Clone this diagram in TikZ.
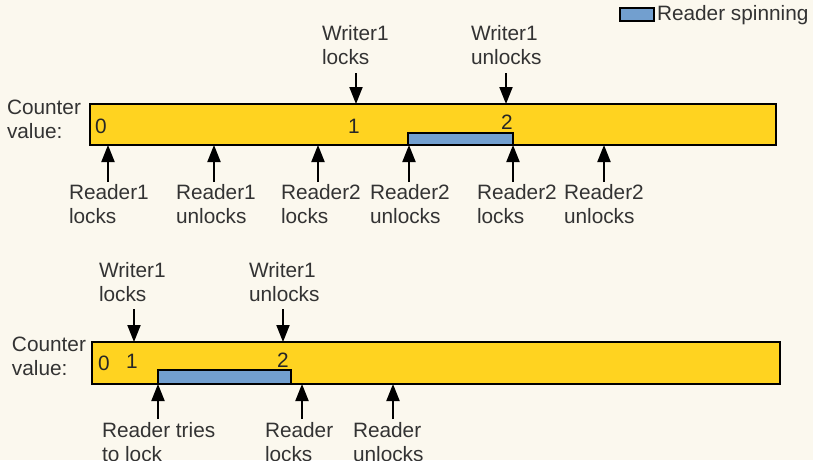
\documentclass[tikz,border=0pt]{standalone}
\usepackage{fontspec}
\setmainfont{Liberation Sans}
\usetikzlibrary{arrows.meta}
\definecolor{bgc}{HTML}{FBF8EE}
\definecolor{baryellow}{HTML}{FFD320}
\definecolor{spinblue}{HTML}{729FCF}
\definecolor{txt}{HTML}{333333}
\begin{document}
\begin{tikzpicture}[x=1pt,y=-1pt,
  every node/.style={inner sep=0pt,outer sep=0pt},
  lbl/.style={anchor=north west,align=left,text=txt,font=\fontsize{20.8}{24}\selectfont},
  num/.style={anchor=base,text=black!85,font=\fontsize{20.8}{24}\selectfont},
  bar/.style={draw=black,line width=2.6pt,fill=baryellow,rectangle},
  spin/.style={draw=black,line width=2.6pt,fill=spinblue,rectangle},
  arr/.style={line width=2pt,-{Triangle[length=17pt,width=13pt]}}]
\fill[bgc] (0,0) rectangle (813,460);
\useasboundingbox (0,0) rectangle (813,460);
% legend
\node[spin,minimum width=34pt,minimum height=13pt] (leg) at (637,14.5) {};
\node[lbl,anchor=west] (legt) at (657,15) {Reader spinning};
% ---------- top diagram ----------
\node[lbl] (cv1) at (7,100) {Counter\\value:};
\node[bar,minimum width=686pt,minimum height=41pt] (bar1) at (433,124.5) {};
\node[spin,minimum width=105pt,minimum height=12pt] (spin1) at (460.5,139) {};
\node[num] (n10) at (101,133) {0};
\node[num] (n11) at (354,133) {1};
\node[num] (n12) at (507,129) {2};
\node[lbl] (w1l) at (322,25) {Writer1\\locks};
\node[lbl] (w1u) at (471,25) {Writer1\\unlocks};
\coordinate (tw1) at (356,73);
\coordinate (tw2) at (506,73);
\draw[arr] (tw1) -- (tw1 |- bar1.north);
\draw[arr] (tw2) -- (tw2 |- bar1.north);
\node[lbl] (r1l) at (69,184) {Reader1\\locks};
\node[lbl] (r1u) at (176,184) {Reader1\\unlocks};
\node[lbl] (r2l) at (281,184) {Reader2\\locks};
\node[lbl] (r2u) at (370,184) {Reader2\\unlocks};
\node[lbl] (r2l2) at (477,184) {Reader2\\locks};
\node[lbl] (r2u2) at (564,184) {Reader2\\unlocks};
\foreach \x/\n in {108/a,214/b,318/c,409/d,513/e,604/f}{
  \coordinate (tb\n) at (\x,182);
  \draw[arr] (tb\n) -- (tb\n |- bar1.south);
}
% ---------- bottom diagram ----------
\node[lbl] (cv2) at (12,337) {Counter\\value:};
\node[bar,minimum width=688pt,minimum height=42pt] (bar2) at (436,363) {};
\node[spin,minimum width=133pt,minimum height=14pt] (spin2) at (224.5,377) {};
\node[num] (n20) at (104,370) {0};
\node[num] (n21) at (132,368) {1};
\node[num] (n22) at (283,367) {2};
\node[lbl] (w2l) at (99,262) {Writer1\\locks};
\node[lbl] (w2u) at (249,262) {Writer1\\unlocks};
\coordinate (uw1) at (134,309);
\coordinate (uw2) at (283,309);
\draw[arr] (uw1) -- (uw1 |- bar2.north);
\draw[arr] (uw2) -- (uw2 |- bar2.north);
\node[lbl] (rt) at (102,422) {Reader tries\\to lock};
\node[lbl] (rl) at (265,422) {Reader\\locks};
\node[lbl] (ru) at (353,422) {Reader\\unlocks};
\foreach \x/\n in {158/a,302/b,393/c}{
  \coordinate (ub\n) at (\x,419);
  \draw[arr] (ub\n) -- (ub\n |- bar2.south);
}
\end{tikzpicture}
\end{document}
